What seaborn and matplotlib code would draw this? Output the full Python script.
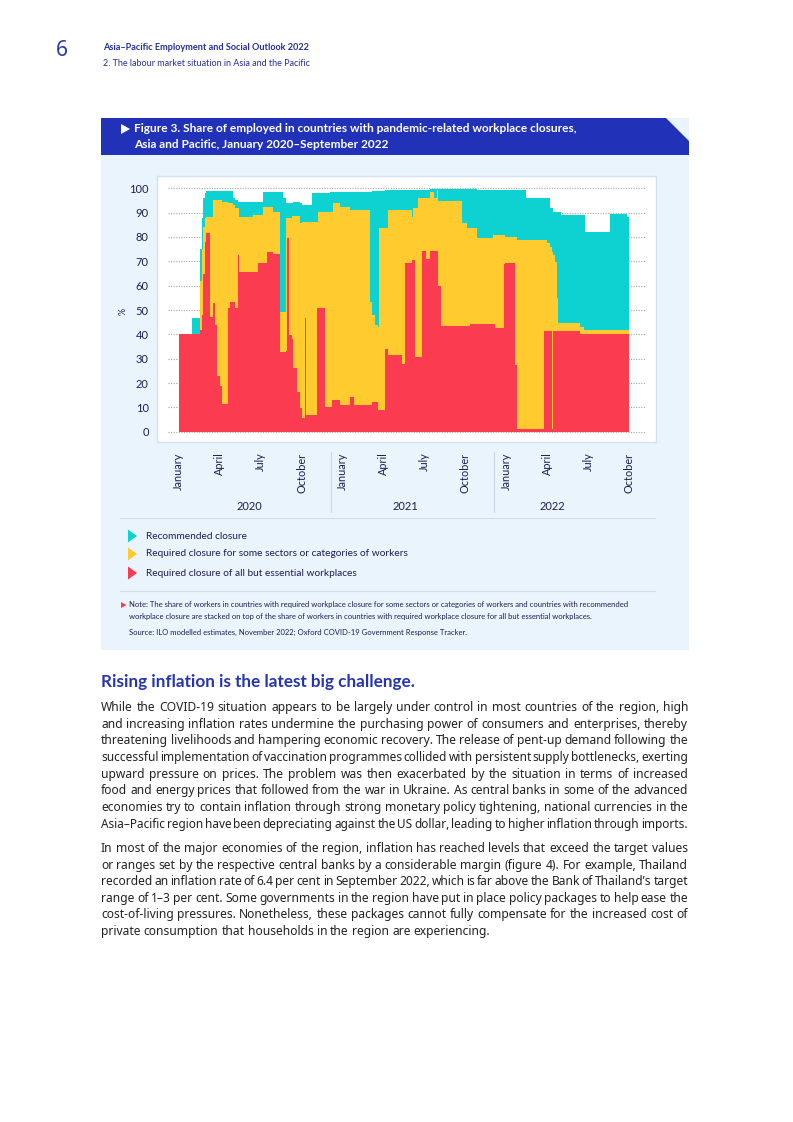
import matplotlib
matplotlib.use("Agg")
import matplotlib.pyplot as plt
import matplotlib.transforms as mtransforms
from matplotlib.patches import Polygon, Rectangle
import numpy as np
import seaborn as sns

W, H = 793, 1122

# step series, values change at these days (days since 1 January 2020)
day = [0, 31, 48, 52, 55, 59, 61, 70, 76, 81,
       86, 92, 97, 110, 115, 122, 126, 132, 135, 167,
       176, 189, 196, 211, 226, 233, 239, 241, 246, 252,
       256, 263, 271, 274, 281, 285, 297, 309, 311, 326,
       337, 341, 345, 360, 382, 391, 426, 430, 438, 445,
       447, 460, 467, 497, 505, 519, 523, 527, 534, 542,
       551, 560, 568, 575, 579, 585, 631, 642, 649, 664,
       701, 705, 725, 727, 749, 753, 775, 814, 820, 828,
       831, 835, 839, 842, 846, 853, 894, 903, 905, 961,
       998, 1003]

all_but_essential = [40, 40, 42, 48, 65, 78, 81.5, 47, 53, 44,
                     23, 19, 11.6, 51, 53.4, 53.4, 50.7, 72.6, 65.8, 65.8,
                     69.2, 69.2, 74, 73, 32.9, 32.9, 33, 79.5, 39.7, 38,
                     26, 16.4, 9.6, 5.5, 46.6, 6.8, 6.8, 50.7, 50.7, 10.3,
                     10.3, 13, 13, 11.2, 14.4, 11.2, 11.2, 12.3, 12.3, 8.9,
                     8.9, 34, 31.5, 28, 69.5, 70.5, 70.5, 30.8, 30.8, 74.2,
                     71, 74.2, 74.2, 74.2, 60, 43.6, 43.6, 43.6, 44.2, 44.2,
                     44.2, 42.5, 69, 69.2, 27.4, 1.1, 1.1, 41.4, 41.4, 41.4,
                     1, 41.4, 41.4, 41.4, 41.4, 41.4, 40.1, 40.1, 40.1, 40.1,
                     40.1, 40.1]

some_sectors = [0, 0, 20, 27, 19, 10, 6.9, 41.4, 42, 51,
                72, 76, 82.9, 43, 40.6, 39.6, 41.3, 19.2, 22.6, 23.2,
                19.8, 23.3, 18.5, 17.4, 16.4, 16.4, 54.7, 8.2, 48, 50.5,
                62.5, 72.1, 76, 80.8, 39.7, 79.5, 79.5, 35.6, 39.7, 80.1,
                80.1, 77.4, 80.8, 81.3, 76.6, 79.8, 42.2, 35.7, 31.7, 34.1,
                74.7, 49.6, 59.6, 63.1, 21.6, 17.9, 21.3, 61, 65.1, 21.7,
                24.9, 24.4, 21.7, 25.1, 34.8, 51.2, 42, 40, 39.4, 35.3,
                36.6, 38.3, 11.8, 10.8, 52.6, 77.7, 77.7, 37.4, 36.1, 34.6,
                73, 31.2, 28.5, 13.6, 3.1, 3.1, 2.9, 1.7, 1.7, 1.7,
                1.7, 1.7]

recommended = [0, 6.8, 13, 13, 12, 10, 10.6, 10.6, 4, 4,
               4, 4, 4.5, 5, 5, 3, 3, 2.4, 5.8, 5.2,
               5.2, 6.1, 6.1, 8.2, 49.3, 46.9, 6.1, 6.1, 6.1, 5.3,
               6, 6, 8.2, 6.7, 6.7, 6.7, 11.6, 11.6, 7.5, 7.6,
               8, 8, 4.6, 5.9, 7.6, 7.6, 45.2, 51, 55, 56,
               15.4, 15.7, 8.4, 8.4, 8.4, 11.1, 7.7, 7.7, 3.6, 3.6,
               3.6, 1.1, 3.8, 0.4, 4.9, 4.9, 14.1, 16.1, 16.1, 20,
               18.7, 18.7, 18.7, 19.5, 19.5, 20.7, 17.1, 17.1, 18.4, 15.8,
               17.8, 17.5, 20.2, 35.1, 45.6, 44.5, 46, 47.2, 40.4, 47.5,
               46.6, 46.6]

month_ticks = [0, 91, 182, 274, 366, 456, 547, 639, 731, 821, 912, 1004]
month_labels = ["January", "April", "July", "October"] * 3
years = ["2020", "2021", "2022"]
year_centres = [157, 505, 832]
year_breaks = [340, 703]
y_ticks = list(range(0, 101, 10))

legend_labels = ["Recommended closure",
                 "Required closure for some sectors or categories of workers",
                 "Required closure of all but essential workplaces"]

RED, YELLOW, TEAL = "#fb3b4f", "#ffcb2e", "#0ed2d1"
NAVY = "#1d1d52"
BLUE = "#2232b8"
PANEL = "#eaf4fd"

para1 = [
    "While the COVID-19 situation appears to be largely under control in most countries of the region, high",
    "and increasing inflation rates undermine the purchasing power of consumers and enterprises, thereby",
    "threatening livelihoods and hampering economic recovery. The release of pent-up demand following the",
    "successful implementation of vaccination programmes collided with persistent supply bottlenecks, exerting",
    "upward pressure on prices. The problem was then exacerbated by the situation in terms of increased",
    "food and energy prices that followed from the war in Ukraine. As central banks in some of the advanced",
    "economies try to contain inflation through strong monetary policy tightening, national currencies in the",
    "Asia–Pacific region have been depreciating against the US dollar, leading to higher inflation through imports.",
]
para2 = [
    "In most of the major economies of the region, inflation has reached levels that exceed the target values",
    "or ranges set by the respective central banks by a considerable margin (figure 4). For example, Thailand",
    "recorded an inflation rate of 6.4 per cent in September 2022, which is far above the Bank of Thailand’s target",
    "range of 1–3 per cent. Some governments in the region have put in place policy packages to help ease the",
    "cost-of-living pressures.  Nonetheless, these packages cannot fully compensate for the increased cost of",
    "private consumption that households in the region are experiencing.",
]

sns.set_style("white")
plt.rcParams["font.family"] = ["Lato", "DejaVu Sans"]

fig = plt.figure(figsize=(W / 100, H / 100), dpi=100)
fig.patch.set_facecolor("white")


def fx(x):
    return x / W


def fy(y):
    return 1 - y / H


def poly(points, color, z=1):
    fig.add_artist(Polygon([(fx(x), fy(y)) for x, y in points], closed=True,
                           transform=fig.transFigure, facecolor=color,
                           edgecolor="none", zorder=z))


# page header
fig.text(fx(56), fy(50), "6", fontsize=15, color="#2b3aa6", family="Noto Sans",
         va="center")
fig.text(fx(103), fy(48), "Asia–Pacific Employment and Social Outlook 2022",
         fontsize=6.6, weight="bold", color="#25309a", va="center")
fig.text(fx(103), fy(63), "2. The labour market situation in Asia and the Pacific",
         fontsize=6.5, color="#25309a", va="center")

# figure panel and title band
fig.add_artist(Rectangle((fx(101), fy(650)), fx(689) - fx(101), fy(118) - fy(650),
                         transform=fig.transFigure, facecolor=PANEL,
                         edgecolor="none", zorder=0))
poly([(101, 118), (666, 118), (689, 141), (689, 155), (101, 155)], BLUE)
poly([(121, 124), (130, 129), (121, 134)], "white", 2)
fig.text(fx(134), fy(129), "Figure 3. Share of employed in countries with pandemic-related workplace closures,",
         fontsize=8.6, weight="bold", color="white", va="center")
fig.text(fx(134), fy(144), "Asia and Pacific, January 2020–September 2022",
         fontsize=8.6, weight="bold", color="white", va="center")

# chart
ax = fig.add_axes([fx(157), fy(442), (656 - 157) / W, (442 - 176) / H])
ax.set_facecolor("white")
for s in ax.spines.values():
    s.set_color("#d3e1ee")
    s.set_linewidth(1)

ax.hlines(y_ticks, -23, 1039, colors="#a8a8a8", linestyles=(0, (1, 1.3)),
          linewidth=0.8, zorder=1)
ax.stackplot(day, all_but_essential, some_sectors, recommended, step="post",
             colors=[RED, YELLOW, TEAL], linewidth=0, zorder=2)

ax.set_xlim(-47.9, 1063.5)
ax.set_ylim(-4.2, 105.05)
ax.set_yticks(y_ticks)
ax.set_yticklabels([str(v) for v in y_ticks], fontsize=8, color=NAVY)
ax.set_xticks(month_ticks)
ax.set_xticklabels(month_labels, rotation=90, fontsize=7.8, color=NAVY)
ax.tick_params(axis="y", length=0, pad=6)
ax.tick_params(axis="x", length=0, pad=7.5)
ax.grid(False)

fig.text(fx(123), fy(311), "%", rotation=90, fontsize=6.5, color=NAVY,
         ha="center", va="center")

trans = mtransforms.blended_transform_factory(ax.transData, fig.transFigure)
for centre, year in zip(year_centres, years):
    ax.text(centre, fy(507), year, transform=trans, ha="center", va="center",
            fontsize=8, color=NAVY)
for b in year_breaks:
    ax.plot([b, b], [fy(452), fy(512)], transform=trans, color="#c9d6e4",
            linewidth=0.8, clip_on=False)

# separators
for yy in (518, 591):
    fig.add_artist(plt.Line2D([fx(120), fx(655)], [fy(yy), fy(yy)],
                              transform=fig.transFigure, color="#d2dde9",
                              linewidth=0.8))

# legend
for yy, label, c in zip((536, 554, 573), legend_labels, [TEAL, YELLOW, RED]):
    poly([(128, yy - 6.5), (137, yy), (128, yy + 6.5)], c, 2)
    fig.text(fx(146), fy(yy), label, fontsize=7.3, color=NAVY, va="center")

# notes
poly([(121, 602), (126.5, 605), (121, 608)], RED, 2)
fig.text(fx(129), fy(605), "Note: The share of workers in countries with required workplace closure for some sectors or categories of workers and countries with recommended",
         fontsize=5.53, color=NAVY, va="center")
fig.text(fx(129), fy(617), "workplace closure are stacked on top of the share of workers in countries with required workplace closure for all but essential workplaces.",
         fontsize=5.53, color=NAVY, va="center")
fig.text(fx(129), fy(632), "Source: ILO modelled estimates, November 2022; Oxford COVID-19 Government Response Tracker.",
         fontsize=5.53, color=NAVY, va="center")

# body text
fig.text(fx(101), fy(682), "Rising inflation is the latest big challenge.",
         fontsize=12.3, weight="bold", color="#2535b0", va="center")

renderer = fig.canvas.get_renderer()
LEFT, RIGHT = 101, 688
TARGET = RIGHT - LEFT
BODY_FONT = ["Noto Sans", "DejaVu Sans"]


def width(s, size):
    t = fig.text(0, 0, s, fontsize=size, family=BODY_FONT)
    w = t.get_window_extent(renderer).width
    t.remove()
    return w


# one body size that fits the full lines with their natural spacing
probe = 9.0
fits = [probe * TARGET / width(" ".join(l.split()), probe) for l in para1 + para2[:-1]]
BODY = float(np.median(fits))


def justify(lines, base, step, last_full):
    # one text per word, spread so full lines reach the right margin
    for i, line in enumerate(lines):
        words = line.split()
        full = last_full or i < len(lines) - 1
        size = BODY
        widths = [width(w, size) for w in words]
        gaps = len(words) - 1
        space = (width(" ".join(words), size) - sum(widths)) / gaps
        if full:
            min_space = 0.6 * space
            if sum(widths) + gaps * min_space > TARGET:
                size = size * (TARGET - gaps * min_space) / sum(widths)
                widths = [width(w, size) for w in words]
            space = (TARGET - sum(widths)) / gaps
        yb = round(base + i * step)  # whole pixel baseline keeps words level
        x = LEFT
        for w, ww in zip(words, widths):
            fig.text(fx(x), fy(yb), w, fontsize=size, family=BODY_FONT,
                     color="#222222", va="baseline")
            x += ww + space


justify(para1, 711, 16.7, True)
justify(para2, 852, 16.6, False)

fig.savefig("out.png", dpi=100, facecolor="white")
